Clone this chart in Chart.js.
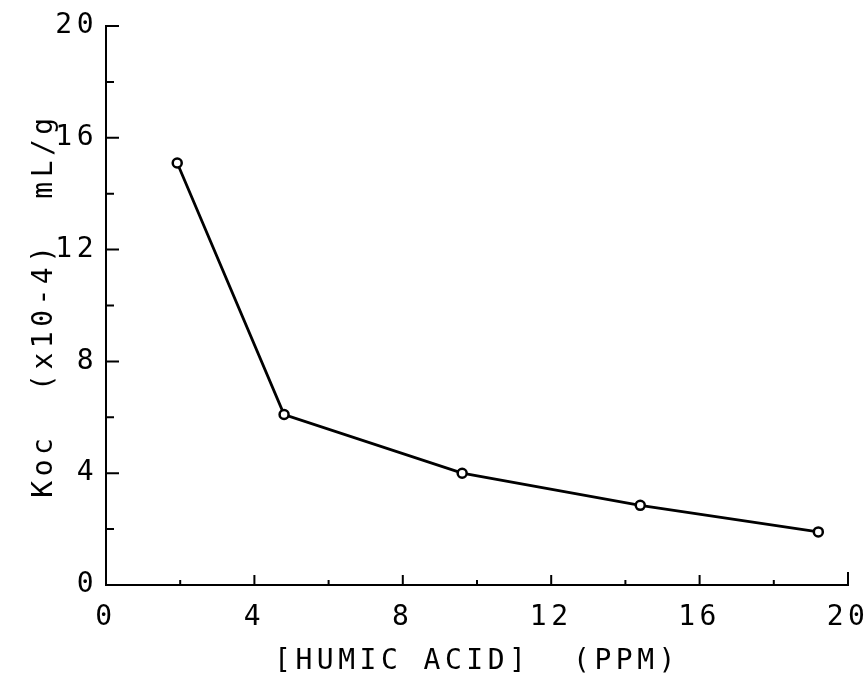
<!DOCTYPE html>
<html>
<head>
<meta charset="utf-8">
<script src="https://cdn.jsdelivr.net/npm/chart.js@4"></script>
<style>
  html, body { margin: 0; padding: 0; background: #fff; }
  #wrap { width: 868px; height: 686px; }
</style>
</head>
<body>
<div id="wrap"><canvas id="kocChart" width="868" height="686"></canvas></div>
<script>
// humic acid concentration (ppm) and Koc (x10-4 mL/g)
const humicAcid = [1.92, 4.8, 9.6, 14.4, 19.2]
const koc = [15.1, 6.1, 4.0, 2.85, 1.9]
const xTicks = [0, 4, 8, 12, 16, 20]
const yTicks = [0, 4, 8, 12, 16, 20]
const xTitle = '[HUMIC ACID]  (PPM)'
const yTitle = 'Koc  (x10-4)  mL/g'

const plotFont = { family: '"DejaVu Sans Mono", monospace', size: 28, weight: 'normal', lineHeight: 1.2 }

// plotter-style letter spacing
const spacing = {
    id: 'spacing',
    beforeLayout(chart) { chart.ctx.letterSpacing = '4.5px' },
    beforeDraw(chart) { chart.ctx.letterSpacing = '4.5px' }
}

// tick marks pointing into the plot
const inwardTicks = {
    id: 'inwardTicks',
    afterDraw(chart) {
        const ctx = chart.ctx
        const xs = chart.scales.x
        const ys = chart.scales.y
        ctx.save()
        ctx.strokeStyle = '#000'
        ctx.lineWidth = 2
        ctx.beginPath()
        xs.ticks.forEach(t => {
            if (t.value === 0) return
            let px = xs.getPixelForValue(t.value)
            let len = xTicks.includes(t.value) ? 10 : 5
            if (t.value === 20) len = 13
            ctx.moveTo(px, xs.top)
            ctx.lineTo(px, xs.top - len)
        })
        ys.ticks.forEach(t => {
            if (t.value === 0) return
            let py = ys.getPixelForValue(t.value)
            let len = yTicks.includes(t.value) ? 13 : 8
            ctx.moveTo(ys.right, py)
            ctx.lineTo(ys.right + len, py)
        })
        ctx.stroke()
        ctx.restore()
    }
}

let chartobj = document.getElementById('kocChart')
let kocChart = new Chart(chartobj, {
    type: 'scatter',
    data: {
        datasets: [{
            data: humicAcid.map((x, i) => ({ x: x, y: koc[i] })),
            showLine: true,
            borderColor: '#000',
            borderWidth: 2.8,
            tension: 0,
            pointRadius: 4.5,
            pointBorderWidth: 2.5,
            pointBorderColor: '#000',
            pointBackgroundColor: '#fff'
        }]
    },
    options: {
        responsive: false,
        animation: false,
        devicePixelRatio: 1,
        layout: { padding: { top: 26, right: 0, bottom: 6, left: 8 } },
        plugins: { legend: { display: false }, tooltip: { enabled: false } },
        scales: {
            x: {
                type: 'linear',
                min: 0,
                max: 20,
                afterFit: s => { s.height = 95; s.paddingRight = 20; s.paddingLeft = 0 },
                grid: { display: false, drawTicks: false },
                border: { display: true, color: '#000', width: 2 },
                ticks: {
                    stepSize: 2,
                    autoSkip: false,
                    maxRotation: 0,
                    padding: 16,
                    color: '#000',
                    font: plotFont,
                    callback: v => xTicks.includes(v) ? String(v) : ''
                },
                title: { display: true, text: xTitle, color: '#000', font: plotFont, padding: { top: 0, bottom: 1 } }
            },
            y: {
                type: 'linear',
                min: 0,
                max: 20,
                afterFit: s => { s.width = 98 },
                grid: { display: false, drawTicks: false },
                border: { display: true, color: '#000', width: 2 },
                ticks: {
                    stepSize: 2,
                    autoSkip: false,
                    padding: 8,
                    color: '#000',
                    font: plotFont,
                    callback: v => yTicks.includes(v) ? String(v) : ''
                },
                title: { display: true, text: yTitle, color: '#000', font: plotFont, padding: { top: 20, bottom: 0 } }
            }
        }
    },
    plugins: [spacing, inwardTicks]
});
</script>
</body>
</html>
